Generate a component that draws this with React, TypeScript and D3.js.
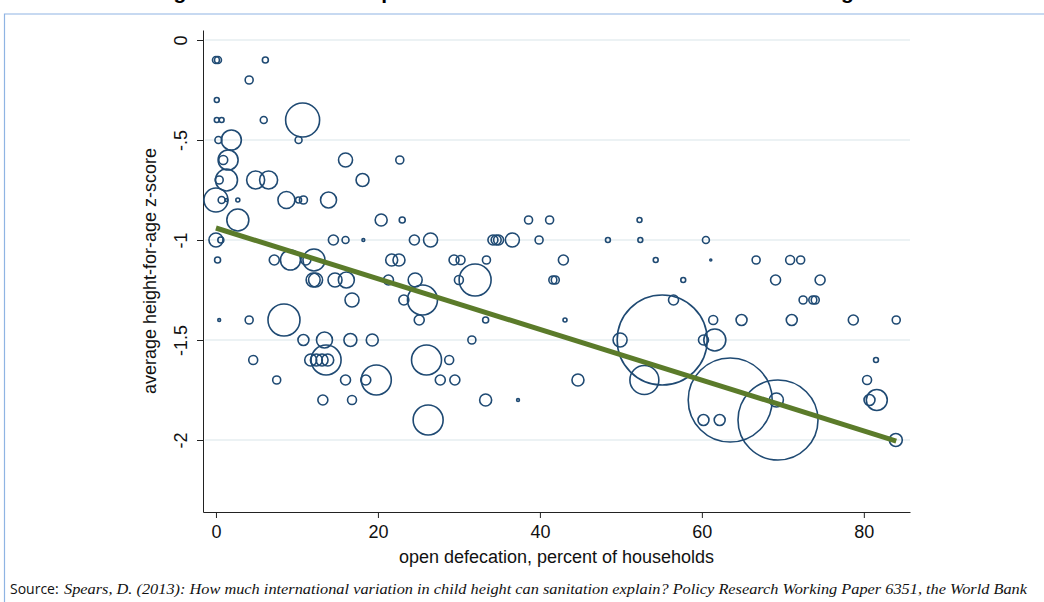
import * as d3 from "d3";
import {useEffect, useRef} from "react";

// one entry per survey, grouped by row of the picture (height rounded to .1)
const openDef = [
    0, 0.25, 6.1,
    4.1,
    0.1,
    0.1, 0.7, 5.9, 10.7,
    0.3, 1.9, 10.2,
    0.9, 1.5, 16, 22.7,
    0.4, 1.3, 4.9, 6.5, 18.1,
    0, 0.7, 1.3, 2.7, 8.7, 10.2, 10.8, 13.9,
    2.7, 20.4, 23, 38.6, 41.2, 52.3,
    0, 0.6, 14.5, 16, 18.2, 24.5, 26.5, 34.2, 34.6, 34.9, 36.6, 39.9, 48.4, 52.4, 60.5,
    0.2, 7.2, 9.2, 11.1, 12.1, 21.7, 22.6, 29.4, 30.2, 33.4, 42.9, 54.3, 61.1, 66.7, 70.9, 72.2,
    12.0, 12.3, 14.7, 16.1, 21.3, 24.6, 30.0, 32.0, 41.6, 41.9, 57.7, 69.1, 74.6,
    16.8, 23.2, 25.5, 56.5, 72.5, 73.7, 74.0,
    0.4, 4.1, 8.4, 25.1, 33.3, 43.1, 61.4, 64.9, 71.1, 78.7, 84.0,
    10.8, 13.4, 16.6, 19.3, 31.6, 49.9, 55.1, 60.2, 61.6,
    4.6, 11.7, 12.4, 13.1, 13.8, 13.6, 26.0, 28.8, 81.5,
    7.5, 16.0, 18.5, 19.8, 27.7, 29.5, 44.7, 52.9, 80.4,
    13.2, 16.8, 33.3, 37.3, 63.5, 69.2, 80.7, 81.6,
    26.2, 60.2, 62.2, 69.4,
    83.95,
];

const heightZ = [
    -0.1, -0.1, -0.1,
    -0.2,
    -0.3,
    -0.4, -0.4, -0.4, -0.4,
    -0.5, -0.5, -0.5,
    -0.6, -0.6, -0.6, -0.6,
    -0.7, -0.7, -0.7, -0.7, -0.7,
    -0.8, -0.8, -0.8, -0.8, -0.8, -0.8, -0.8, -0.8,
    -0.9, -0.9, -0.9, -0.9, -0.9, -0.9,
    -1, -1, -1, -1, -1, -1, -1, -1, -1, -1, -1, -1, -1, -1, -1,
    -1.1, -1.1, -1.1, -1.1, -1.1, -1.1, -1.1, -1.1, -1.1, -1.1, -1.1, -1.1, -1.1, -1.1, -1.1, -1.1,
    -1.2, -1.2, -1.2, -1.2, -1.2, -1.2, -1.2, -1.2, -1.2, -1.2, -1.2, -1.2, -1.2,
    -1.3, -1.3, -1.3, -1.3, -1.3, -1.3, -1.3,
    -1.4, -1.4, -1.4, -1.4, -1.4, -1.4, -1.4, -1.4, -1.4, -1.4, -1.4,
    -1.5, -1.5, -1.5, -1.5, -1.5, -1.5, -1.5, -1.5, -1.5,
    -1.6, -1.6, -1.6, -1.6, -1.6, -1.6, -1.6, -1.6, -1.6,
    -1.7, -1.7, -1.7, -1.7, -1.7, -1.7, -1.7, -1.7, -1.7,
    -1.8, -1.8, -1.8, -1.8, -1.8, -1.8, -1.8, -1.8,
    -1.9, -1.9, -1.9, -1.9,
    -2,
];

// marker weight (circle area)
const popWeight = [
    12, 12, 9,
    16,
    6,
    6, 6, 12, 289,
    12, 100, 12,
    20, 100, 49, 16,
    16, 121, 81, 81, 42,
    144, 12, 2, 4, 72, 9, 16, 64,
    121, 36, 9, 16, 16, 6,
    49, 9, 25, 12, 2, 25, 49, 25, 25, 25, 49, 16, 6, 6, 12,
    9, 25, 100, 25, 121, 36, 36, 25, 20, 16, 25, 6, 1, 16, 20, 16,
    49, 49, 49, 64, 25, 49, 20, 256, 16, 16, 6, 25, 25,
    49, 25, 225, 25, 16, 16, 16,
    2, 16, 256, 25, 9, 4, 20, 30, 30, 25, 16,
    30, 64, 42, 36, 16, 49, 2025, 25, 121,
    20, 36, 36, 36, 36, 225, 225, 20, 6,
    16, 25, 25, 225, 25, 25, 36, 210, 20,
    25, 20, 36, 2, 1764, 49, 30, 110,
    225, 30, 30, 1600,
    42,
];

const xTicks = [0, 20, 40, 60, 80];
const yTicks = [0, -0.5, -1, -1.5, -2];
const yTickLabels = ["0", "-.5", "-1", "-1.5", "-2"];

// fitted line
const fitIntercept = -0.94;
const fitSlope = -0.01268;

export default function App() {
    const ref = useRef<SVGSVGElement>(null);

    useEffect(() => {
        const svg = d3.select(ref.current);
        svg.selectAll("*").remove();

        const font = "'Liberation Sans', Arial, sans-serif";

        const x = d3.scaleLinear().domain([-1.6, 85.7]).range([203, 910]);
        const y = d3.scaleLinear().domain([0.05, -2.36]).range([30, 512]);
        const r = d3.scaleSqrt().domain([0, 2025]).range([0, 45]);

        // text box frame + title (only its descenders show above the box)
        svg.append("path")
            .attr("d", "M1044,14H4.5V602")
            .attr("fill", "none")
            .attr("stroke", "#8fb4e3")
            .attr("stroke-width", 1.2);

        svg.append("text")
            .attr("x", 100)
            .attr("y", -1.5)
            .style("font-family", font)
            .style("font-weight", "bold")
            .style("font-size", "21px")
            .text("The height of children and open defecation across 140 DHS data sets: the gradient");

        // gridlines
        svg.append("g")
            .selectAll("line")
            .data(yTicks)
            .enter()
            .append("line")
            .attr("x1", x(-1.6) + 2)
            .attr("x2", x(85.7))
            .attr("y1", (d) => y(d))
            .attr("y2", (d) => y(d))
            .attr("stroke", "#e6eef1")
            .attr("stroke-width", 1.6);

        // y axis
        const yAxis = svg.append("g")
            .attr("transform", "translate(" + x(-1.6) + ",0)")
            .call(d3.axisLeft(y).tickValues(yTicks).tickSize(6).tickSizeOuter(0)
                .tickFormat((d, i) => yTickLabels[i]));
        yAxis.selectAll("path, line").attr("stroke", "#222");
        yAxis.selectAll("text")
            .attr("transform", "rotate(-90)")
            .attr("x", 0)
            .attr("y", -16)
            .attr("dy", 0)
            .style("text-anchor", "middle")
            .style("font-family", font)
            .style("font-size", "18px")
            .attr("fill", "#111");

        // x axis
        const xAxis = svg.append("g")
            .attr("transform", "translate(0," + y(-2.36) + ")")
            .call(d3.axisBottom(x).tickValues(xTicks).tickSize(6).tickSizeOuter(0));
        xAxis.selectAll("path, line").attr("stroke", "#222");
        xAxis.selectAll("text")
            .attr("y", 13)
            .style("font-family", font)
            .style("font-size", "18px")
            .attr("fill", "#111");

        // axis titles
        svg.append("text")
            .attr("x", (x(-1.6) + x(85.7)) / 2)
            .attr("y", 563)
            .attr("text-anchor", "middle")
            .style("font-family", font)
            .style("font-size", "18px")
            .attr("fill", "#111")
            .text("open defecation, percent of households");

        svg.append("text")
            .attr("transform", "rotate(-90)")
            .attr("x", -(y(0.05) + y(-2.36)) / 2)
            .attr("y", 156)
            .attr("text-anchor", "middle")
            .style("font-family", font)
            .style("font-size", "18px")
            .attr("fill", "#111")
            .text("average height-for-age z-score");

        // bubbles
        svg.append("g")
            .selectAll("circle")
            .data(openDef.map((d, i) => ({od: d, hz: heightZ[i], w: popWeight[i]})))
            .enter()
            .append("circle")
            .attr("cx", (d) => x(d.od))
            .attr("cy", (d) => y(d.hz))
            .attr("r", (d) => r(d.w))
            .attr("fill", "none")
            .attr("stroke", "#1f4a73")
            .attr("stroke-width", 1.6);

        // fitted line
        const ext = d3.extent(openDef) as [number, number];
        const line = d3.line<number>()
            .x((d) => x(d))
            .y((d) => y(fitIntercept + fitSlope * d));
        svg.append("path")
            .attr("d", line(ext))
            .attr("fill", "none")
            .attr("stroke", "#5b7b2a")
            .attr("stroke-width", 5);

        // source note
        const src = svg.append("text")
            .attr("x", 10)
            .attr("y", 594)
            .attr("fill", "#111");
        src.append("tspan")
            .style("font-family", "'Open Sans', 'Liberation Sans', sans-serif")
            .style("font-size", "14px")
            .text("Source: ");
        src.append("tspan")
            .attr("x", 64)
            .attr("textLength", 963)
            .attr("lengthAdjust", "spacingAndGlyphs")
            .style("font-family", "'Liberation Serif', 'DejaVu Serif', serif")
            .style("font-style", "italic")
            .style("font-size", "15px")
            .text("Spears, D. (2013): How much international variation in child height can sanitation explain? Policy Research Working Paper 6351, the World Bank");
    }, []);

    return (
        <svg ref={ref} width={1044} height={602}
             style={{position: "absolute", left: 0, top: 0, background: "#fff"}}/>
    );
}
